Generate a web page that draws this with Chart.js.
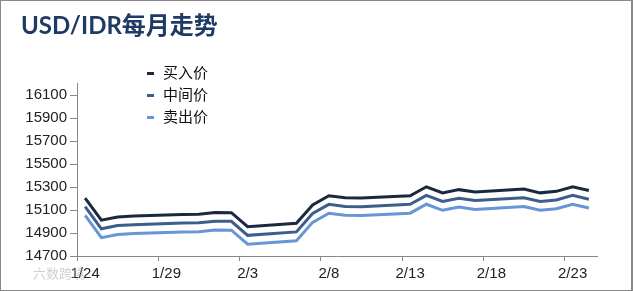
<!DOCTYPE html>
<html>
<head>
<meta charset="utf-8">
<script src="https://cdn.jsdelivr.net/npm/chart.js@4/dist/chart.umd.min.js"></script>
<style>
  body { margin: 0; background: #fff; }
  #box {
    position: relative; width: 633px; height: 291px; box-sizing: border-box;
    border: 1px solid #888; border-right-width: 2px; background: #fff;
  }
  #legend { position: absolute; left: 146px; top: 60px; font: 15px "Noto Sans CJK SC", sans-serif; color: #111; }
  #legend div { height: 22px; line-height: 22px; white-space: nowrap; }
  #legend span.mark { display: inline-block; width: 7px; height: 3px; margin-right: 9px; vertical-align: middle; }
  #wm { position: absolute; left: 32px; top: 262px; font: 13px "Noto Sans CJK SC", sans-serif; color: rgba(170,170,170,0.55); }
</style>
</head>
<body>
<div id="box">
  <canvas id="chart"></canvas>
  <div id="legend"></div>
  <div id="wm">六数跨境</div>
</div>
<script>
// every calendar day on the axis
let days = ["1/24","1/25","1/26","1/27","1/28","1/29","1/30","1/31","2/1","2/2","2/3","2/4","2/5","2/6","2/7","2/8",
            "2/9","2/10","2/11","2/12","2/13","2/14","2/15","2/16","2/17","2/18","2/19","2/20","2/21","2/22","2/23","2/24"];

// trading days that have a quote
let dates = ["1/24","1/25","1/26","1/27","1/30","1/31","2/1","2/2","2/3","2/6","2/7","2/8",
             "2/9","2/10","2/13","2/14","2/15","2/16","2/17","2/20","2/21","2/22","2/23","2/24"];

let buy  = [15205,15012,15040,15048,15062,15064,15078,15077,14955,14985,15145,15225,
            15207,15205,15225,15303,15250,15278,15258,15283,15250,15263,15303,15270];
let mid  = [15130,14937,14965,14973,14987,14989,15003,15002,14880,14910,15070,15150,
            15132,15130,15150,15228,15175,15203,15183,15208,15175,15188,15228,15195];
let sell = [15053,14860,14888,14896,14910,14912,14926,14925,14803,14833,14993,15073,
            15055,15053,15073,15151,15098,15126,15106,15131,15098,15111,15151,15118];

let yTicks = [14700,14900,15100,15300,15500,15700,15900,16100];

let names = ["买入价","中间价","卖出价"];
let colors = ["#1b2940","#3d5d8c","#6696d6"];

function points(values) {
    return dates.map((d, i) => ({ x: d, y: values[i] }));
}

let datasets = [buy, mid, sell].map((vals, i) => ({
    label: names[i],
    data: points(vals),
    borderColor: colors[i],
    backgroundColor: colors[i],
    borderWidth: 3,
    pointRadius: 0,
    tension: 0
}));

// legend
let legend = document.getElementById("legend");
names.forEach((n, i) => {
    legend.innerHTML += `<div><span class="mark" style="background:${colors[i]}"></span>${n}</div>`;
});

const ctx = document.getElementById('chart').getContext('2d');

new Chart(ctx, {
    type: 'line',
    data: { labels: days, datasets: datasets },
    options: {
        responsive: true,
        maintainAspectRatio: false,
        animation: false,
        layout: { padding: { left: 20, right: 34, top: 0, bottom: 0 } },
        plugins: {
            legend: { display: false },
            tooltip: { enabled: false },
            title: {
                display: true,
                text: "USD/IDR每月走势",
                align: 'start',
                color: "#1f3a64",
                font: { family: "Lato, 'Noto Sans CJK SC', sans-serif", size: 24, weight: 'bold' },
                padding: { top: 11, bottom: 43 }
            }
        },
        scales: {
            x: {
                offset: true,
                grid: {
                    offset: true,
                    drawOnChartArea: false,
                    tickLength: 5,
                    tickColor: c => (c.index % 5 === 0 ? "#888" : "rgba(0,0,0,0)")
                },
                border: { color: "#888", width: 1 },
                ticks: {
                    autoSkip: false,
                    maxRotation: 0,
                    padding: 4,
                    color: "#222",
                    font: { family: "'Liberation Sans', Arial, sans-serif", size: 15 },
                    callback: function (v, i) { return i % 5 === 0 ? days[i] : ""; }
                },
                afterFit: s => { s.height = 34; }
            },
            y: {
                min: 14700,
                max: 16200,
                grid: { drawOnChartArea: false, tickLength: 7, tickColor: "#888" },
                border: { color: "#888", width: 1 },
                ticks: {
                    padding: 3,
                    color: "#222",
                    font: { family: "'Liberation Sans', Arial, sans-serif", size: 15 },
                    callback: v => String(v)
                },
                afterBuildTicks: s => { s.ticks = yTicks.map(v => ({ value: v })); },
                afterFit: s => { s.width = 56; }
            }
        }
    }
});
</script>
</body>
</html>
